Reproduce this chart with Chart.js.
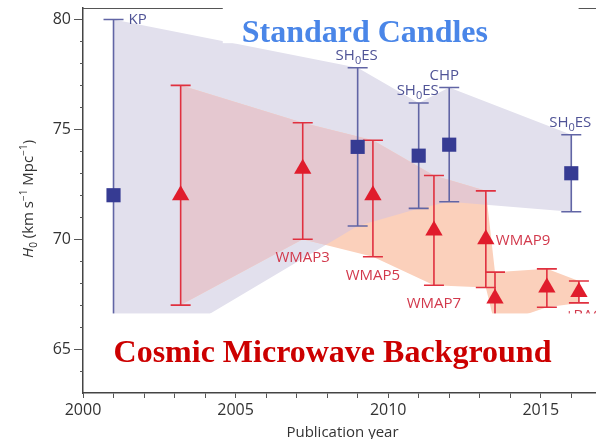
<!DOCTYPE html>
<html>
<head>
<meta charset="utf-8">
<script src="https://cdn.jsdelivr.net/npm/chart.js@4.4.1/dist/chart.umd.min.js"></script>
<style>
  html, body { margin: 0; padding: 0; background: #fff; }
  #wrap { width: 596px; height: 439px; }
</style>
</head>
<body>
<div id="wrap"><canvas id="h0Chart" width="596" height="439"></canvas></div>
<script>
// H0 measurements by publication year: distance ladder vs. CMB
const candleYears = [2001, 2009, 2011, 2012, 2016];
const candleH0 = [72.0, 74.2, 73.8, 74.3, 73.0];
const candleLow = [64.0, 70.6, 71.4, 71.7, 71.25];
const candleHigh = [80.0, 77.8, 76.2, 76.9, 74.75];
const candleNames = ['KP', 'SH0ES', 'SH0ES', 'CHP', 'SH0ES'];

const cmbYears = [2003.2, 2007.2, 2009.5, 2011.5, 2013.2, 2013.5, 2015.2, 2016.25];
const cmbH0 = [72.0, 73.2, 72.0, 70.4, 70.0, 67.3, 67.8, 67.6];
const cmbLow = [67.0, 70.0, 69.2, 67.9, 67.8, 66.1, 66.9, 67.1];
const cmbHigh = [77.0, 75.3, 74.5, 72.9, 72.2, 68.5, 68.65, 68.1];
const cmbNames = ['', 'WMAP3', 'WMAP5', 'WMAP7', 'WMAP9', '', '', '+BAO'];

const yearTicks = [2000, 2005, 2010, 2015];
const h0Ticks = [65, 70, 75, 80];

const FONT = '"Open Sans", "DejaVu Sans", sans-serif';
const SERIF = '"Liberation Serif", "DejaVu Serif", serif';
const BLUE_LINE = '#6165a5', BLUE_MARK = '#363b93', BLUE_TEXT = '#4f5396';
const RED_LINE = '#e0303f', RED_MARK = '#e01c2c', RED_TEXT = '#d2394c';
const LAVENDER = '#e2e0ed', PEACH = '#fbd0bb', OVERLAP = '#e5c8d0';

// closed outline: along the upper ends, then back along the lower ends
function bandOutline(xs, lo, hi) {
    const top = xs.map((x, i) => ({ x, y: hi[i] }));
    const bottom = xs.map((x, i) => ({ x, y: lo[i] })).reverse();
    return top.concat(bottom);
}

function tracePoints(ctx, meta) {
    ctx.beginPath();
    meta.data.forEach((pt, i) => i ? ctx.lineTo(pt.x, pt.y) : ctx.moveTo(pt.x, pt.y));
    ctx.closePath();
}

function drawErrorBars(chart, xs, lo, hi, color) {
    const { ctx, scales: { x, y } } = chart;
    ctx.save();
    ctx.strokeStyle = color;
    ctx.lineWidth = 1.6;
    xs.forEach((v, i) => {
        const px = x.getPixelForValue(v);
        const top = y.getPixelForValue(hi[i]);
        const bot = y.getPixelForValue(lo[i]);
        ctx.beginPath();
        ctx.moveTo(px, top); ctx.lineTo(px, bot);
        ctx.moveTo(px - 10, top); ctx.lineTo(px + 10, top);
        ctx.moveTo(px - 10, bot); ctx.lineTo(px + 10, bot);
        ctx.stroke();
    });
    ctx.restore();
}

// text with an optional subscript 0 (SH0ES)
function labelParts(name) {
    if (name === 'SH0ES') return [['SH', 0], ['0', 1], ['ES', 0]];
    return [[name, 0]];
}

function drawLabel(ctx, name, x, y, align, color) {
    const parts = labelParts(name);
    const fonts = ['15px ' + FONT, '11px ' + FONT];
    let width = 0;
    parts.forEach(([t, sub]) => { ctx.font = fonts[sub]; width += ctx.measureText(t).width; });
    let cx = align === 'center' ? x - width / 2 : x;
    ctx.fillStyle = color;
    ctx.textAlign = 'left';
    ctx.textBaseline = 'alphabetic';
    parts.forEach(([t, sub]) => {
        ctx.font = fonts[sub];
        ctx.fillText(t, cx, y + (sub ? 4 : 0));
        cx += ctx.measureText(t).width;
    });
}

function drawYTitle(ctx, cx, cy) {
    const big = '15px ' + FONT, small = '10px ' + FONT;
    const parts = [
        ['H', 'italic ' + big, 0], ['0', small, 4], [' (km s', big, 0], ['\u22121', small, -6],
        [' Mpc', big, 0], ['\u22121', small, -6], [')', big, 0]
    ];
    let width = 0;
    parts.forEach(([t, f]) => { ctx.font = f; width += ctx.measureText(t).width; });
    ctx.save();
    ctx.translate(cx, cy);
    ctx.rotate(-Math.PI / 2);
    ctx.fillStyle = '#333';
    ctx.textAlign = 'left';
    ctx.textBaseline = 'alphabetic';
    let px = -width / 2;
    parts.forEach(([t, f, dy]) => {
        ctx.font = f;
        ctx.fillText(t, px, 5 + dy);
        px += ctx.measureText(t).width;
    });
    ctx.restore();
}

const decorations = {
    id: 'decorations',
    beforeDatasetDraw(chart, args) {
        if (args.index === 2) drawErrorBars(chart, cmbYears, cmbLow, cmbHigh, RED_LINE);
        if (args.index === 3) drawErrorBars(chart, candleYears, candleLow, candleHigh, BLUE_LINE);
    },
    afterDatasetDraw(chart, args) {
        // where the two bands overlap the colour turns pink
        if (args.index !== 1) return;
        const ctx = chart.ctx;
        ctx.save();
        tracePoints(ctx, chart.getDatasetMeta(0));
        ctx.clip();
        tracePoints(ctx, chart.getDatasetMeta(1));
        ctx.fillStyle = OVERLAP;
        ctx.fill();
        ctx.restore();
    },
    afterDatasetsDraw(chart) {
        const { ctx, chartArea: area, scales: { x, y } } = chart;

        // point labels
        candleNames.forEach((name, i) => {
            const px = x.getPixelForValue(candleYears[i]);
            const top = y.getPixelForValue(candleHigh[i]);
            if (name === 'KP') drawLabel(ctx, name, px + 15, top + 5, 'left', BLUE_TEXT);
            else drawLabel(ctx, name, px - (name === 'CHP' ? 5 : 1), top - 8, 'center', BLUE_TEXT);
        });
        cmbNames.forEach((name, i) => {
            if (!name) return;
            const px = x.getPixelForValue(cmbYears[i]);
            const bot = y.getPixelForValue(cmbLow[i]);
            if (name === 'WMAP9') drawLabel(ctx, name, px + 10, y.getPixelForValue(cmbH0[i]) + 6, 'left', RED_TEXT);
            else if (name === '+BAO') drawLabel(ctx, name, px - 14, bot + 17, 'left', RED_TEXT);
            else drawLabel(ctx, name, px, bot + 23, 'center', RED_TEXT);
        });

        // top frame line and minor ticks on the H0 axis
        ctx.save();
        ctx.strokeStyle = '#555';
        ctx.lineWidth = 1;
        ctx.beginPath();
        ctx.moveTo(area.left, area.top + 0.5);
        ctx.lineTo(area.right, area.top + 0.5);
        for (let v = 64; v <= 80; v++) {
            if (h0Ticks.includes(v)) continue;
            const py = Math.round(y.getPixelForValue(v)) + 0.5;
            ctx.moveTo(area.left - 3, py);
            ctx.lineTo(area.left, py);
        }
        ctx.stroke();

        // white panels behind the two headings
        ctx.fillStyle = '#fff';
        const l1 = x.getPixelForValue(2004.58), r1 = x.getPixelForValue(2016.24);
        ctx.fillRect(l1, 0, r1 - l1, y.getPixelForValue(78.92));
        const l2 = x.getPixelForValue(2000.1), t2 = y.getPixelForValue(66.62);
        ctx.fillRect(l2, t2, area.right - l2, area.bottom - 3 - t2);
        ctx.restore();
    },
    afterDraw(chart) {
        const { ctx, chartArea: area, scales: { x } } = chart;
        ctx.save();
        ctx.textAlign = 'left';
        ctx.textBaseline = 'alphabetic';
        ctx.font = 'bold 32px ' + SERIF;
        ctx.fillStyle = '#4a86e8';
        ctx.fillText('Standard Candles', x.getPixelForValue(2005.2), 42);
        ctx.fillStyle = '#cc0000';
        ctx.fillText('Cosmic Microwave Background', x.getPixelForValue(2001.0), 362);

        ctx.font = '15px ' + FONT;
        ctx.fillStyle = '#333';
        ctx.textAlign = 'center';
        ctx.fillText('Publication year', (area.left + area.right) / 2 + 3, 437);
        ctx.restore();

        drawYTitle(ctx, 28, 199);
    }
};

const ctx = document.getElementById('h0Chart').getContext('2d');

new Chart(ctx, {
    type: 'scatter',
    data: {
        datasets: [
            {
                type: 'line',
                label: 'Standard candles band',
                data: bandOutline(candleYears, candleLow, candleHigh),
                fill: 'shape',
                backgroundColor: LAVENDER,
                borderColor: 'transparent',
                borderWidth: 0,
                pointRadius: 0,
                tension: 0,
                order: 6,
            },
            {
                type: 'line',
                label: 'CMB band',
                data: bandOutline(cmbYears, cmbLow, cmbHigh),
                fill: 'shape',
                backgroundColor: PEACH,
                borderColor: 'transparent',
                borderWidth: 0,
                pointRadius: 0,
                tension: 0,
                order: 5,
            },
            {
                label: 'CMB',
                data: cmbYears.map((x, i) => ({ x, y: cmbH0[i] })),
                pointStyle: 'triangle',
                pointRadius: 10,
                backgroundColor: RED_MARK,
                borderColor: RED_MARK,
                borderWidth: 0,
                order: 2,
            },
            {
                label: 'Standard candles',
                data: candleYears.map((x, i) => ({ x, y: candleH0[i] })),
                pointStyle: 'rect',
                pointRadius: 10,
                backgroundColor: BLUE_MARK,
                borderColor: BLUE_MARK,
                borderWidth: 0,
                order: 1,
            },
        ]
    },
    options: {
        responsive: false,
        animation: false,
        devicePixelRatio: 1,
        events: [],
        layout: { autoPadding: false, padding: { top: 8, left: 0, right: 0, bottom: 0 } },
        plugins: { legend: { display: false }, tooltip: { enabled: false } },
        scales: {
            x: {
                type: 'linear',
                min: 2000,
                max: 2016.81,
                ticks: {
                    stepSize: 1,
                    includeBounds: false,
                    autoSkip: false,
                    maxRotation: 0,
                    padding: 3,
                    color: '#333',
                    font: { family: FONT, size: 16 },
                    callback: v => yearTicks.includes(v) ? String(v) : '',
                },
                grid: { display: true, drawOnChartArea: false, tickLength: 5, tickColor: '#555', tickWidth: 1 },
                border: { display: true, color: '#444', width: 1.5 },
                afterFit: s => { s.height = 46; s.paddingLeft = 0; s.paddingRight = 0; },
            },
            y: {
                min: 63,
                max: 80.52,
                ticks: {
                    stepSize: 1,
                    includeBounds: false,
                    autoSkip: false,
                    padding: 3,
                    color: '#333',
                    font: { family: FONT, size: 16 },
                    callback: v => h0Ticks.includes(v) ? String(v) : '',
                },
                grid: {
                    display: true, drawOnChartArea: false, tickLength: 9, tickWidth: 1,
                    tickColor: c => h0Ticks.includes(c.tick && c.tick.value) ? '#555' : 'transparent',
                },
                border: { display: true, color: '#444', width: 1.5 },
                afterFit: s => { s.width = 83; s.paddingTop = 0; s.paddingBottom = 0; },
            }
        }
    },
    plugins: [decorations]
});
</script>
</body>
</html>
